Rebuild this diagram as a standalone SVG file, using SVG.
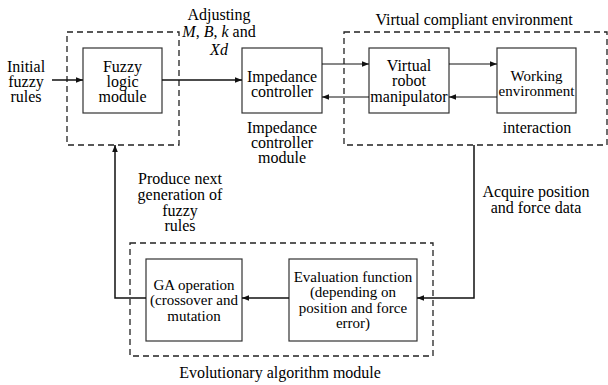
<svg xmlns="http://www.w3.org/2000/svg" width="608" height="385" viewBox="0 0 608 385" font-family="Liberation Serif, Times New Roman, serif" font-size="16">
<style>
.t{font-family:"Liberation Serif","Times New Roman",serif;font-size:16px;fill:#000;text-anchor:middle}
.s{font-size:15px}
.box{fill:#fff;stroke:#333;stroke-width:1.2}
.dash{fill:none;stroke:#222;stroke-width:1.3;stroke-dasharray:6,4}
.ln{fill:none;stroke:#111;stroke-width:1.5}
.thin{fill:none;stroke:#111;stroke-width:1}
</style>
<defs>
<marker id="ah" viewBox="0 0 10 10" refX="10" refY="5" markerWidth="9" markerHeight="7" markerUnits="userSpaceOnUse" orient="auto">
<path d="M0,1 L10,5 L0,9 z" fill="#111"/>
</marker>
</defs>
<rect fill="#fff" width="608" height="385"/>
<g id="fuzzy-module">
<rect class="dash" x="67" y="32" width="112" height="113"/>
<rect class="box" x="83" y="48" width="79" height="65"/>
<text class="t" x="122.5" y="72">Fuzzy</text>
<text class="t" x="122.5" y="87">logic</text>
<text class="t" x="122.5" y="102">module</text>
</g>
<g id="initial-rules">
<text class="t" x="26" y="72">Initial</text>
<text class="t" x="26" y="87">fuzzy</text>
<text class="t" x="26" y="102">rules</text>
</g>
<g id="impedance-controller">
<rect class="box" x="242" y="48" width="80" height="65"/>
<text class="t" x="282" y="82">Impedance</text>
<text class="t" x="282" y="97">controller</text>
<text class="t" x="282" y="133">Impedance</text>
<text class="t" x="282" y="148">controller</text>
<text class="t" x="282" y="163">module</text>
</g>
<g id="adjust-label">
<text class="t" x="219" y="20">Adjusting</text>
<text class="t" x="219" y="37"><tspan font-style="italic">M</tspan>, <tspan font-style="italic">B</tspan>, <tspan font-style="italic">k</tspan> and</text>
<text class="t" x="219" y="55" font-style="italic">Xd</text>
</g>
<g id="virtual-environment">
<rect class="dash" x="344" y="32" width="263" height="113"/>
<text class="t" x="474" y="25">Virtual compliant environment</text>
</g>
<g id="virtual-robot">
<rect class="box" x="369" y="48" width="80" height="65"/>
<text class="t" x="409" y="71">Virtual</text>
<text class="t" x="409" y="86">robot</text>
<text class="t" x="409" y="101.5">manipulator</text>
</g>
<g id="working-environment">
<rect class="box" x="497" y="48" width="79" height="65"/>
<text class="t s" x="536.5" y="81">Working</text>
<text class="t s" x="536.5" y="96">environment</text>
<text class="t" x="537" y="133">interaction</text>
</g>
<g id="evolutionary-module">
<rect class="dash" x="130" y="243" width="303" height="113"/>
<text class="t" x="280" y="378">Evolutionary algorithm module</text>
</g>
<g id="ga-operation">
<rect class="box" x="146" y="259" width="96" height="82"/>
<text class="t s" x="194" y="290">GA operation</text>
<text class="t s" x="194" y="305">(crossover and</text>
<text class="t s" x="194" y="321">mutation</text>
</g>
<g id="evaluation-function">
<rect class="box" x="289" y="259" width="128" height="82"/>
<text class="t s" x="353" y="282">Evaluation function</text>
<text class="t s" x="353" y="297">(depending on</text>
<text class="t s" x="353" y="313">position and force</text>
<text class="t s" x="353" y="328">error)</text>
</g>
<g id="labels">
<text class="t" x="180" y="184">Produce next</text>
<text class="t" x="180" y="200">generation of</text>
<text class="t" x="180" y="215.5">fuzzy</text>
<text class="t" x="180" y="231">rules</text>
<text class="t" x="536" y="197">Acquire position</text>
<text class="t" x="536" y="213">and force data</text>
</g>
<g id="connectors">
<line class="ln" x1="52" y1="80" x2="83" y2="80" marker-end="url(#ah)"/>
<line class="ln" x1="162" y1="80" x2="242" y2="80" marker-end="url(#ah)"/>
<line class="thin" x1="322" y1="64" x2="369" y2="64" marker-end="url(#ah)"/>
<line class="thin" x1="369" y1="97" x2="322" y2="97" marker-end="url(#ah)"/>
<line class="thin" x1="449" y1="64" x2="497" y2="64" marker-end="url(#ah)"/>
<line class="thin" x1="497" y1="97" x2="449" y2="97" marker-end="url(#ah)"/>
<polyline class="ln" points="474,145 474,298 417,298" marker-end="url(#ah)"/>
<line class="ln" x1="289" y1="298" x2="242" y2="298" marker-end="url(#ah)"/>
<polyline class="ln" points="146,298 115,298 115,145" marker-end="url(#ah)"/>
</g>
</svg>
